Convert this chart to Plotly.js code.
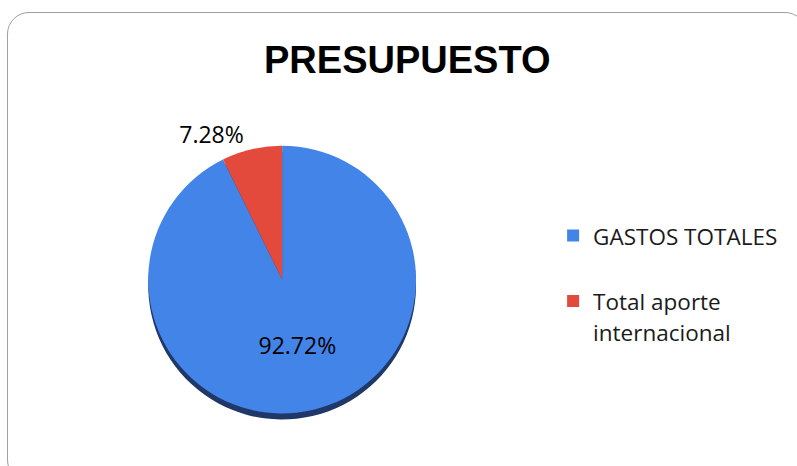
<!DOCTYPE html>
<html>
<head>
<meta charset="utf-8">
<script src="https://cdn.plot.ly/plotly-3.0.1.min.js"></script>
<style>
  html, body { margin: 0; padding: 0; background: #ffffff; overflow: hidden; }
  #frame { position: absolute; left: 7px; top: 12px; width: 800px; height: 470px;
           border: 1px solid #a0a0a0; border-radius: 22px; box-sizing: border-box; }
  #chart { position: absolute; left: 0; top: 0; width: 797px; height: 466px; }
</style>
</head>
<body>
<div id="frame"></div>
<div id="chart"></div>
<script>
const chartTitle = 'PRESUPUESTO';
const categories = ['GASTOS TOTALES', 'Total aporte<br>internacional'];
const legendLabels = [
  '<span style="font-size:22.5px">GASTOS TOTALES</span><br> ',
  '<span style="font-size:22.5px">Total aporte</span><br><span style="font-size:22.5px">internacional</span>'
];
const values = [92.72, 7.28];
const sliceColors = ['#4384e8', '#e34a3b'];

const pieDomain = { x: [0.186, 0.522], y: [0.112, 0.688] };
const shadowDomain = { x: [0.186, 0.522], y: [0.099, 0.675] };

const shadow = {
  type: 'pie',
  values: values,
  labels: categories,
  sort: false,
  direction: 'clockwise',
  rotation: 0,
  domain: shadowDomain,
  marker: { colors: ['#1f3868', '#1f3868'], line: { width: 0 } },
  textinfo: 'none',
  showlegend: false,
  hoverinfo: 'skip'
};

const labelFont = { family: 'Open Sans, Liberation Sans, sans-serif', size: 23, color: '#000000' };

const pie = {
  type: 'pie',
  values: values,
  labels: legendLabels,
  sort: false,
  direction: 'clockwise',
  rotation: 0,
  domain: pieDomain,
  marker: { colors: sliceColors, line: { width: 0 } },
  texttemplate: '%{value:.2f}%',
  textposition: ['inside', 'outside'],
  insidetextorientation: 'horizontal',
  textfont: labelFont,
  outsidetextfont: labelFont,
  insidetextfont: labelFont,
  automargin: false,
  showlegend: true
};

const layout = {
  width: 797,
  height: 466,
  margin: { l: 0, r: 0, t: 0, b: 0 },
  paper_bgcolor: 'rgba(0,0,0,0)',
  plot_bgcolor: 'rgba(0,0,0,0)',
  title: {
    text: '<b>' + chartTitle + '</b>',
    x: 0.511, xanchor: 'center',
    y: 0.872, yanchor: 'middle',
    font: { family: 'Liberation Sans, Arial, sans-serif', size: 38, color: '#000000' }
  },
  legend: {
    x: 0.694, xanchor: 'left',
    y: 0.542, yanchor: 'top',
    valign: 'top',
    font: { family: 'Open Sans, Liberation Sans, sans-serif', size: 24, color: '#1a1a1a' },
    bgcolor: 'rgba(0,0,0,0)',
    itemclick: false
  },
  showlegend: true
};

Plotly.newPlot('chart', [shadow, pie], layout, { displayModeBar: false, staticPlot: true });
</script>
</body>
</html>
